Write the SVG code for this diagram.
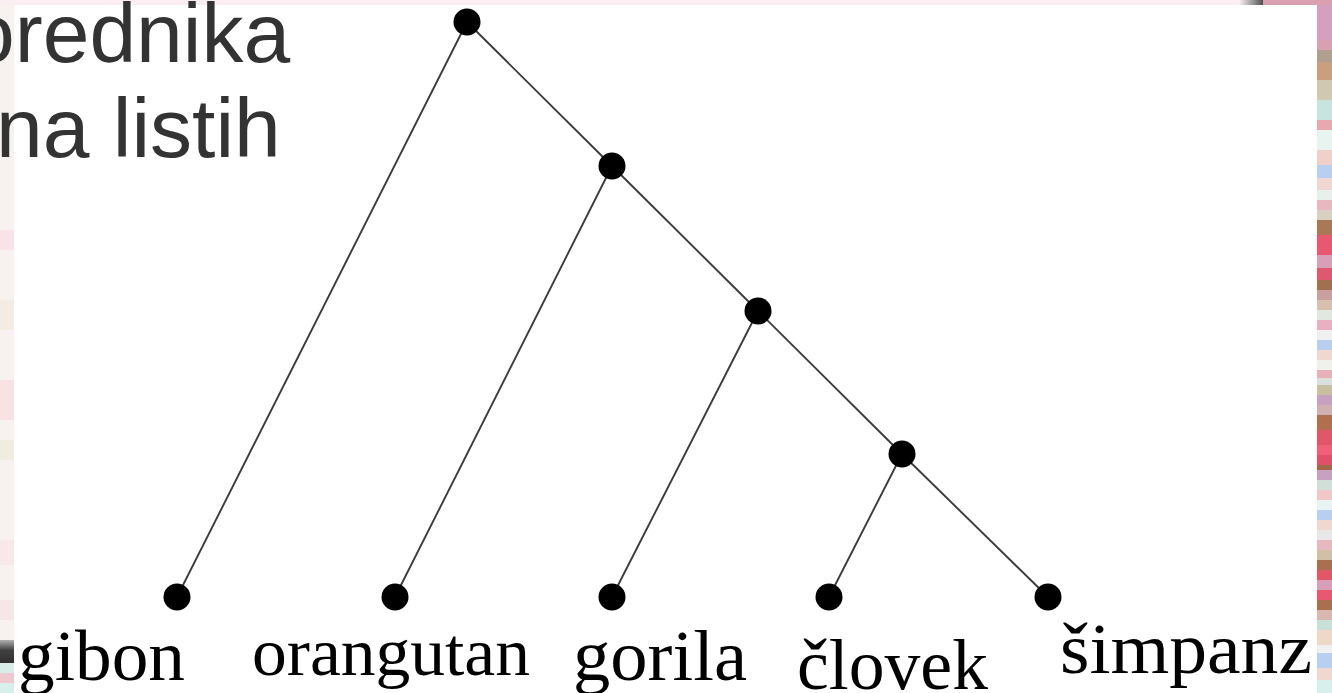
<svg xmlns="http://www.w3.org/2000/svg" width="1332" height="693" viewBox="0 0 1332 693">
  <style>
    .slide { font-family: "Liberation Sans", Arial, sans-serif; font-size: 84px; fill: #333333; }
    .leaf-label { font-family: "Liberation Serif", "DejaVu Serif", serif; fill: #000000; }
    .edge { stroke: #3c3c3c; stroke-width: 1.9; fill: none; stroke-linecap: round; }
    .dot { fill: #000000; }
  </style>

  <!-- slide backdrop behind the white figure -->
  <g id="backdrop">
    <rect x="0" y="0" width="1332" height="693" fill="#f7f2f0"/>
    <rect x="0" y="0" width="1332" height="5" fill="#fbeef2"/>
    <defs>
      <linearGradient id="grayBar" x1="0" y1="0" x2="1" y2="0">
        <stop offset="0" stop-color="#f4e8ec"/>
        <stop offset="0.5" stop-color="#a0a0a0"/>
        <stop offset="1" stop-color="#505050"/>
      </linearGradient>
      <linearGradient id="leftBar" x1="0" y1="0" x2="0" y2="1">
        <stop offset="0" stop-color="#b0b0b0"/>
        <stop offset="0.45" stop-color="#404040"/>
        <stop offset="1" stop-color="#303030"/>
      </linearGradient>
    </defs>
    <rect x="1240" y="0" width="23" height="5" fill="url(#grayBar)"/>
    <rect x="1263" y="0" width="69" height="5" fill="#d8a0b0"/>
    <!-- faint stripes on the left margin -->
    <rect x="0" y="230" width="14" height="20" fill="#f8e4e8"/>
    <rect x="0" y="300" width="14" height="30" fill="#f4ece4"/>
    <rect x="0" y="380" width="14" height="40" fill="#f8e2e4"/>
    <rect x="0" y="440" width="14" height="20" fill="#f0ece0"/>
    <rect x="0" y="540" width="14" height="25" fill="#f8e8ea"/>
    <rect x="0" y="600" width="14" height="20" fill="#f6e6e8"/>
    <rect x="0" y="640" width="14" height="23" fill="url(#leftBar)"/>
    <rect x="0" y="663" width="14" height="10" fill="#d8ece8"/>
    <rect x="0" y="673" width="14" height="10" fill="#f0c8d0"/>
    <rect x="0" y="683" width="14" height="10" fill="#d8f0ec"/>
    <!-- colourful stripes on the right margin -->
    <g id="right-stripes">
      <rect x="1317" y="5" width="15" height="35" fill="#d4a0c0"/>
      <rect x="1317" y="40" width="15" height="10" fill="#d8a0b0"/>
      <rect x="1317" y="50" width="15" height="12" fill="#b0a090"/>
      <rect x="1317" y="62" width="15" height="18" fill="#c8a080"/>
      <rect x="1317" y="80" width="15" height="20" fill="#d0c8b0"/>
      <rect x="1317" y="100" width="15" height="20" fill="#c8e4e0"/>
      <rect x="1317" y="120" width="15" height="10" fill="#e8a8b0"/>
      <rect x="1317" y="130" width="15" height="20" fill="#e8f4f0"/>
      <rect x="1317" y="150" width="15" height="15" fill="#f0d0c8"/>
      <rect x="1317" y="165" width="15" height="13" fill="#b8d0f0"/>
      <rect x="1317" y="178" width="15" height="12" fill="#f0d8d0"/>
      <rect x="1317" y="190" width="15" height="10" fill="#e8f0ec"/>
      <rect x="1317" y="200" width="15" height="10" fill="#e8b8c0"/>
      <rect x="1317" y="210" width="15" height="10" fill="#d8d0c0"/>
      <rect x="1317" y="220" width="15" height="15" fill="#a87858"/>
      <rect x="1317" y="235" width="15" height="20" fill="#e85870"/>
      <rect x="1317" y="255" width="15" height="13" fill="#d8a0b8"/>
      <rect x="1317" y="268" width="15" height="12" fill="#e05870"/>
      <rect x="1317" y="280" width="15" height="10" fill="#a07050"/>
      <rect x="1317" y="290" width="15" height="10" fill="#c8a0a0"/>
      <rect x="1317" y="300" width="15" height="10" fill="#d8c0b0"/>
      <rect x="1317" y="310" width="15" height="10" fill="#e0e8e0"/>
      <rect x="1317" y="320" width="15" height="10" fill="#e8b0c0"/>
      <rect x="1317" y="330" width="15" height="10" fill="#f0f0f0"/>
      <rect x="1317" y="340" width="15" height="10" fill="#b8d0ee"/>
      <rect x="1317" y="350" width="15" height="10" fill="#f0d8d0"/>
      <rect x="1317" y="360" width="15" height="10" fill="#f0f0ec"/>
      <rect x="1317" y="370" width="15" height="8" fill="#e8b0b8"/>
      <rect x="1317" y="378" width="15" height="7" fill="#d8e0e0"/>
      <rect x="1317" y="385" width="15" height="10" fill="#c8c0a0"/>
      <rect x="1317" y="395" width="15" height="10" fill="#c8a0c0"/>
      <rect x="1317" y="405" width="15" height="10" fill="#d0b0b0"/>
      <rect x="1317" y="415" width="15" height="15" fill="#b07050"/>
      <rect x="1317" y="430" width="15" height="15" fill="#e05868"/>
      <rect x="1317" y="445" width="15" height="10" fill="#f06078"/>
      <rect x="1317" y="455" width="15" height="10" fill="#e05068"/>
      <rect x="1317" y="465" width="15" height="5" fill="#a06848"/>
      <rect x="1317" y="470" width="15" height="10" fill="#c8a0c0"/>
      <rect x="1317" y="480" width="15" height="10" fill="#d0e0d8"/>
      <rect x="1317" y="490" width="15" height="10" fill="#f0c8c8"/>
      <rect x="1317" y="500" width="15" height="10" fill="#e8f4f4"/>
      <rect x="1317" y="510" width="15" height="10" fill="#b8d0f0"/>
      <rect x="1317" y="520" width="15" height="10" fill="#f0d8d0"/>
      <rect x="1317" y="530" width="15" height="10" fill="#e8e8e8"/>
      <rect x="1317" y="540" width="15" height="10" fill="#e8b8c0"/>
      <rect x="1317" y="550" width="15" height="10" fill="#d0c0a8"/>
      <rect x="1317" y="560" width="15" height="10" fill="#a87050"/>
      <rect x="1317" y="570" width="15" height="10" fill="#e05868"/>
      <rect x="1317" y="580" width="15" height="10" fill="#d8a0b8"/>
      <rect x="1317" y="590" width="15" height="10" fill="#e85870"/>
      <rect x="1317" y="600" width="15" height="10" fill="#a87050"/>
      <rect x="1317" y="610" width="15" height="10" fill="#d8b8b0"/>
      <rect x="1317" y="620" width="15" height="10" fill="#c8e0d8"/>
      <rect x="1317" y="630" width="15" height="15" fill="#f0d8c8"/>
      <rect x="1317" y="645" width="15" height="8" fill="#f0f0f0"/>
      <rect x="1317" y="653" width="15" height="15" fill="#b8d0f0"/>
      <rect x="1317" y="668" width="15" height="12" fill="#f0d8d0"/>
      <rect x="1317" y="680" width="15" height="13" fill="#d8f0ec"/>
    </g>
    <!-- white figure area -->
    <rect x="14" y="5" width="1303" height="688" fill="#ffffff"/>
  </g>

  <!-- slide heading text, cut at the left edge -->
  <g id="heading">
    <text class="slide" x="-32" y="62">orednika</text>
    <text class="slide" x="-4" y="157">na listih</text>
  </g>

  <!-- tree edges -->
  <g id="connectors">
    <line class="edge" x1="467" y1="22" x2="177" y2="597"/>
    <line class="edge" x1="467" y1="22" x2="612" y2="166"/>
    <line class="edge" x1="612" y1="166" x2="395" y2="597"/>
    <line class="edge" x1="612" y1="166" x2="758" y2="311"/>
    <line class="edge" x1="758" y1="311" x2="612" y2="597"/>
    <line class="edge" x1="758" y1="311" x2="902" y2="454"/>
    <line class="edge" x1="902" y1="454" x2="829" y2="597"/>
    <line class="edge" x1="902" y1="454" x2="1048" y2="597"/>
  </g>

  <!-- inner nodes -->
  <g id="root"><circle class="dot" cx="467" cy="22" r="13.5"/></g>
  <g id="inner1"><circle class="dot" cx="612" cy="166" r="13.5"/></g>
  <g id="inner2"><circle class="dot" cx="758" cy="311" r="13.5"/></g>
  <g id="inner3"><circle class="dot" cx="902" cy="454" r="13.5"/></g>

  <!-- leaves with species labels -->
  <g id="leaf-gibon">
    <circle class="dot" cx="177" cy="597" r="13.5"/>
    <text class="leaf-label" x="18" y="680" font-size="72" textLength="167" lengthAdjust="spacingAndGlyphs">gibon</text>
  </g>
  <g id="leaf-orangutan">
    <circle class="dot" cx="395" cy="597" r="13.5"/>
    <text class="leaf-label" x="252" y="675" font-size="68" textLength="278" lengthAdjust="spacingAndGlyphs">orangutan</text>
  </g>
  <g id="leaf-gorila">
    <circle class="dot" cx="612" cy="597" r="13.5"/>
    <text class="leaf-label" x="573" y="680" font-size="72" textLength="174" lengthAdjust="spacingAndGlyphs">gorila</text>
  </g>
  <g id="leaf-clovek">
    <circle class="dot" cx="829" cy="597" r="13.5"/>
    <text class="leaf-label" x="797" y="689" font-size="72" textLength="191" lengthAdjust="spacingAndGlyphs">človek</text>
  </g>
  <g id="leaf-simpanz">
    <circle class="dot" cx="1048" cy="597" r="13.5"/>
    <text class="leaf-label" x="1060" y="673" font-size="72" textLength="252" lengthAdjust="spacingAndGlyphs">šimpanz</text>
  </g>
</svg>
